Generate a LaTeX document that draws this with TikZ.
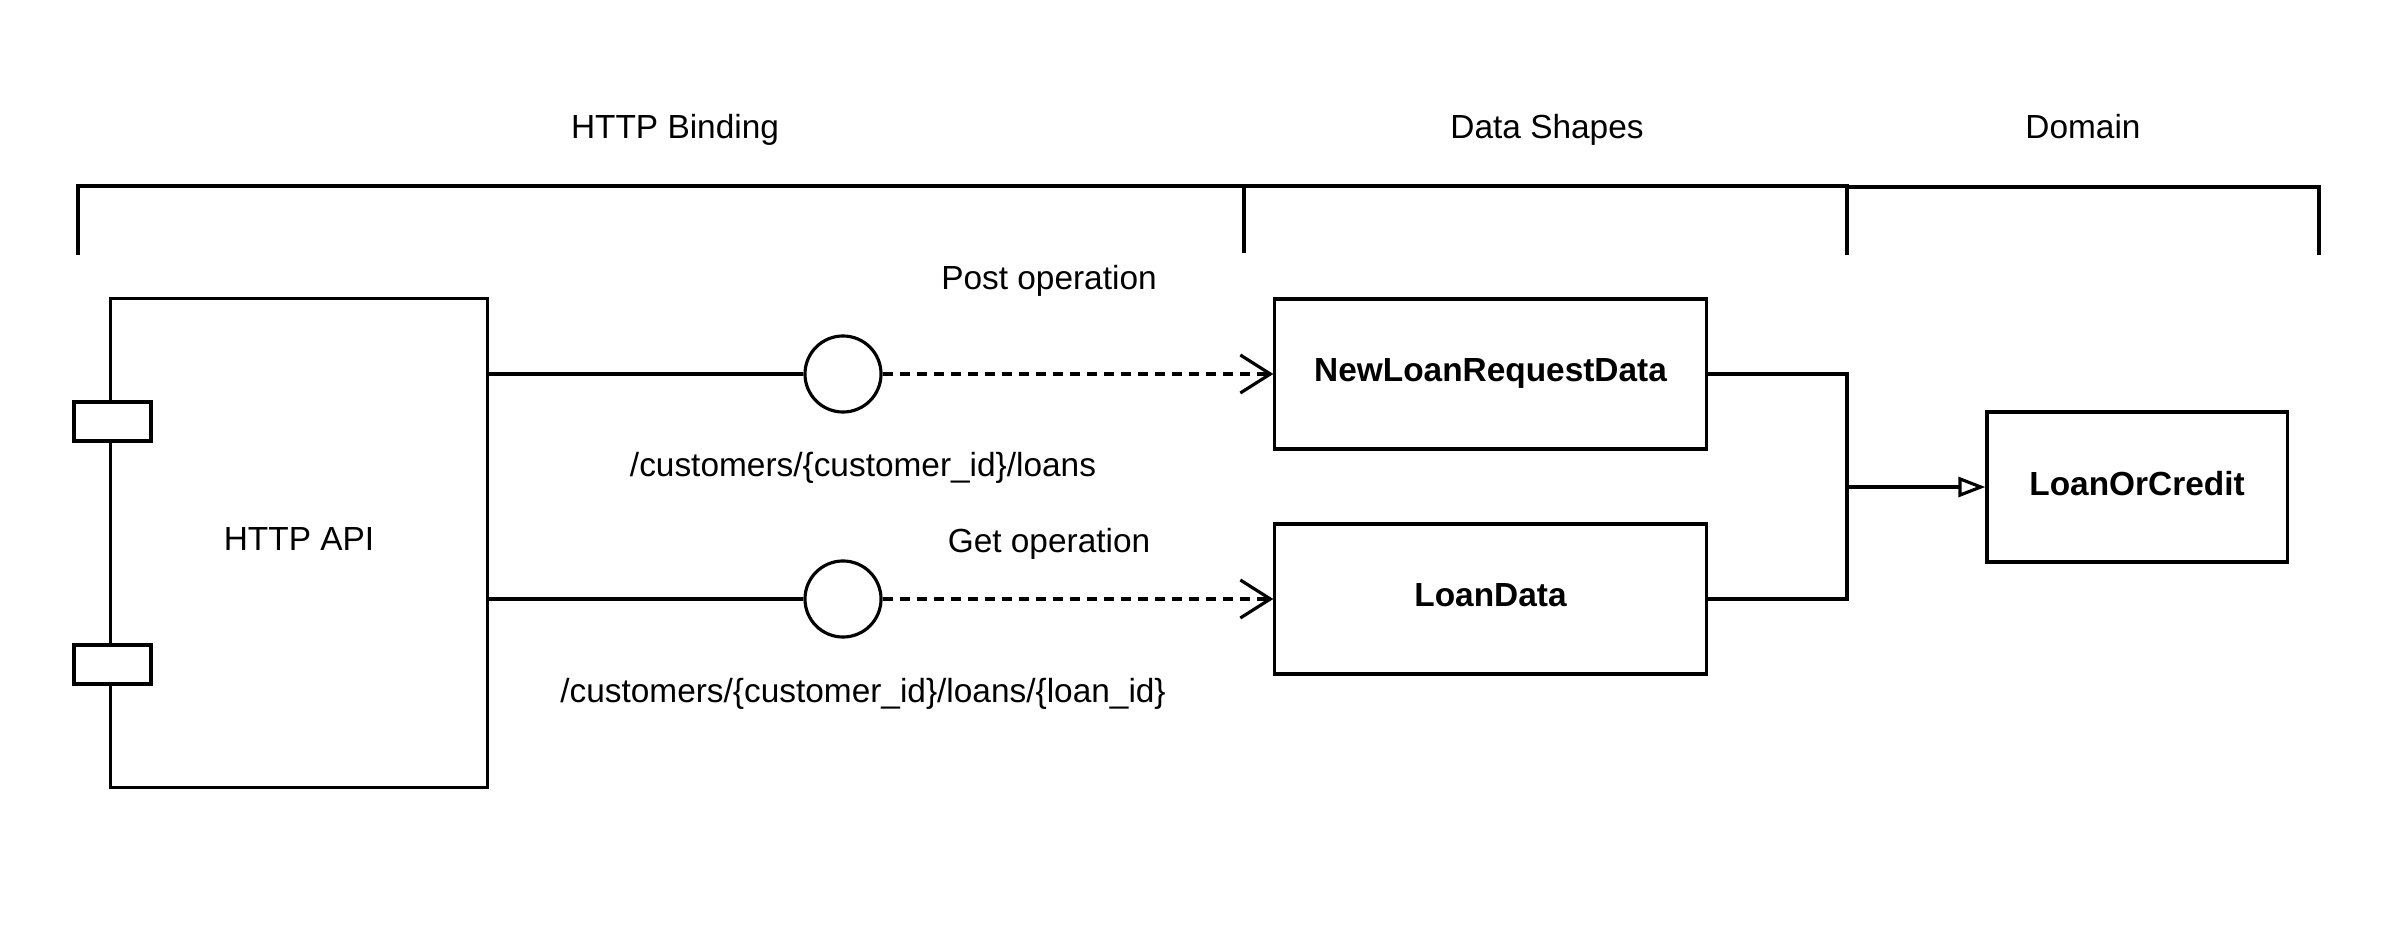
\documentclass[tikz,border=0pt]{standalone}
\usepackage{fontspec}
\setmainfont{Liberation Sans}
\usetikzlibrary{arrows.meta}
\begin{document}
\begin{tikzpicture}[x=0.01cm,y=-0.01cm,
  every node/.style={font=\fontsize{9.5pt}{11pt}\selectfont},
  line/.style={line width=0.9pt,line join=miter},
  box/.style={draw,line width=0.9pt,fill=white,inner sep=0pt,text depth=0.07cm},
  port/.style={draw,line width=0.9pt,fill=white,minimum width=0.77cm,minimum height=0.39cm,inner sep=0pt},
  iface/.style={draw,line width=0.9pt,circle,minimum size=0.76cm,inner sep=0pt},
  bold/.style={font=\fontsize{9.5pt}{11pt}\selectfont\bfseries},
  dep/.style={line,dash pattern=on 0.1cm off 0.07cm,-{Straight Barb[length=0.3cm,width=0.38cm,line width=0.9pt]}},
  gen/.style={line,-{Triangle[open,length=0.27cm,width=0.2cm,line width=0.9pt,fill=white]}}
]
\useasboundingbox (0,0) rectangle (2394,943);

% bracket headings
\node (hb) at (675,130) {HTTP Binding};
\node (hds) at (1547,130) {Data Shapes};
\node (hd) at (2083,127) {Domain};

\coordinate (b1) at (78,186);
\coordinate (b2) at (1244,186);
\coordinate (b3) at (1847,186);
\coordinate (b4) at (2319,187);
\draw[line] ([yshift=-0.69cm]b1) -- (b1) -- (b2) -- ([yshift=-0.67cm]b2);
\draw[line] (b2) -- (b3) -- ([yshift=-0.69cm]b3);
\draw[line] (b3 |- b4) -- (b4) -- ([yshift=-0.68cm]b4);

% component
\node[box,minimum width=3.76cm,minimum height=4.88cm] (api) at (299,543) {HTTP API};
\node[port] (p1) at (112.5,421.5) {};
\node[port] (p2) at (112.5,664.5) {};

% interfaces
\node[iface] (c1) at (843,374) {};
\node[iface] (c2) at (843,599) {};

% data shapes
\node[box,bold,minimum width=4.31cm,minimum height=1.5cm] (nlrd) at (1490.5,374) {NewLoanRequestData};
\node[box,bold,minimum width=4.31cm,minimum height=1.5cm] (ld) at (1490.5,599) {LoanData};
\node[box,bold,minimum width=3.0cm,minimum height=1.5cm] (loc) at (2137,487) {LoanOrCredit};

% connectors
\draw[line] (api.east |- c1.west) -- (c1.west);
\draw[line] (api.east |- c2.west) -- (c2.west);
\draw[dep] (c1.east) -- (nlrd.west);
\draw[dep] (c2.east) -- (ld.west);

\coordinate (jn) at (1847,487);
\draw[line] (nlrd.east) -| (jn);
\draw[line] (ld.east) -| (jn);
\draw[gen] (jn) -- (loc.west);

% labels
\node (lpost) at (1049,281) {Post operation};
\node (lpath1) at (863,468) {/customers/\{customer\_id\}/loans};
\node (lget) at (1049,544) {Get operation};
\node (lpath2) at (863,694) {/customers/\{customer\_id\}/loans/\{loan\_id\}};
\end{tikzpicture}
\end{document}
